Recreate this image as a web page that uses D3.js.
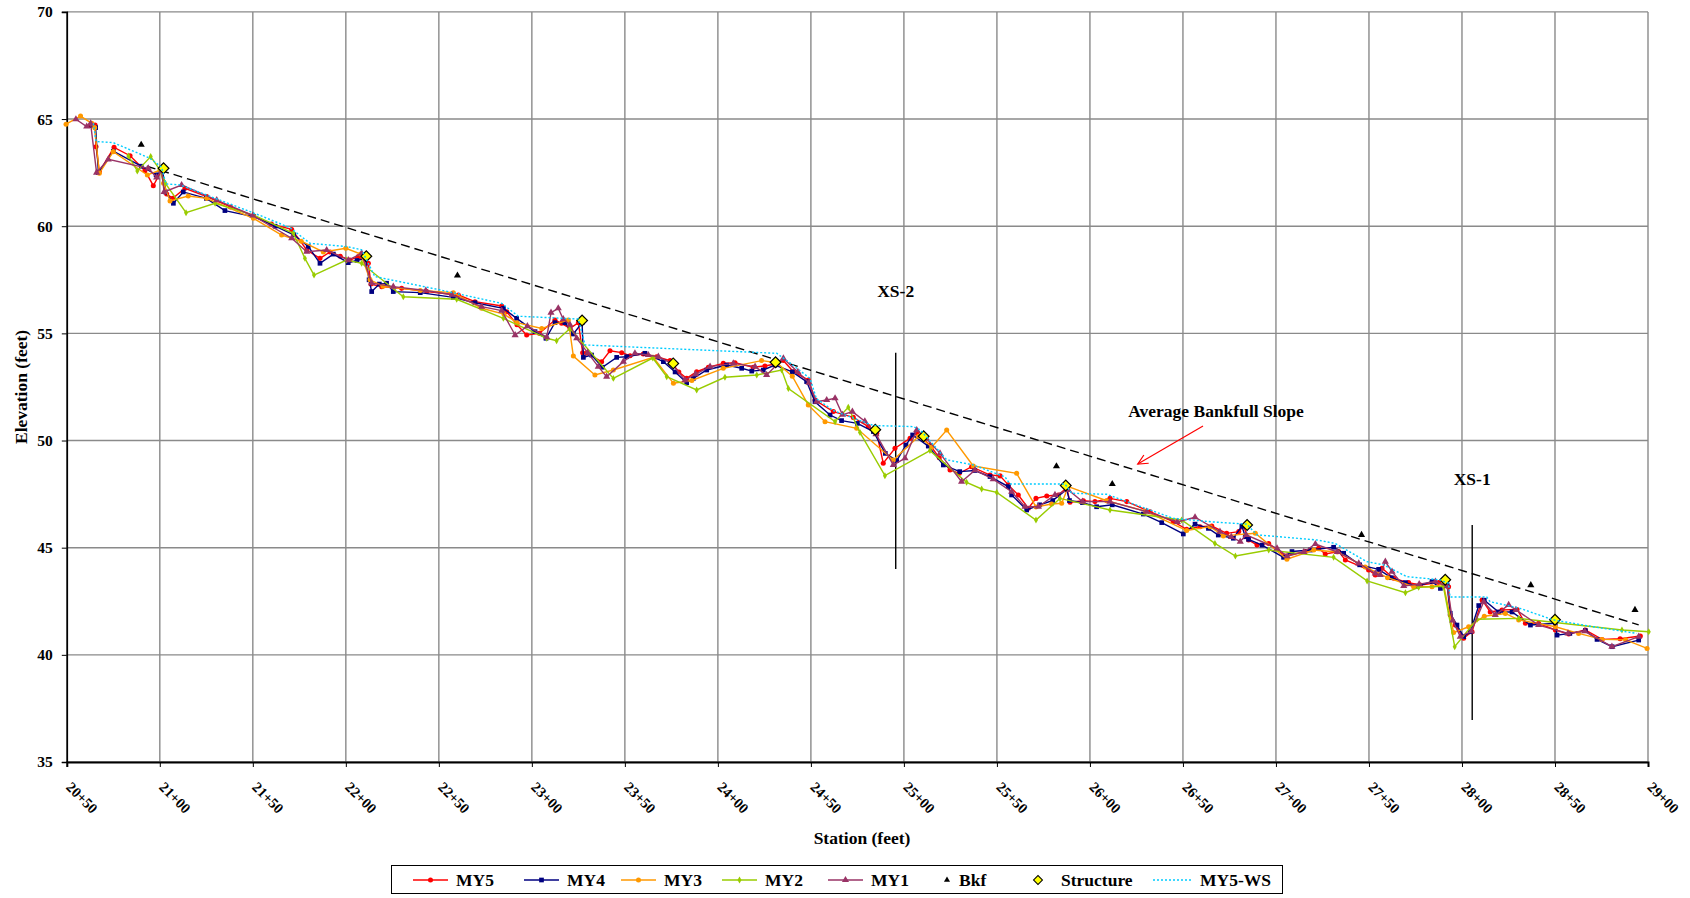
<!DOCTYPE html>
<html>
<head>
<meta charset="utf-8">
<script src="https://cdn.jsdelivr.net/npm/d3@7"></script>
<style>
  body { margin: 0; background: #fff; }
  text { font-family: "Liberation Serif", "Times New Roman", serif; font-weight: bold; fill: #000; }
</style>
</head>
<body>
<svg id="chart" width="1690" height="898"></svg>
<script>
// station (ft) / elevation (ft) pairs
const my5 = [[2062.5,64.7],[2065.2,64.72],[2065.7,63.71],[2067.5,62.55],[2075.4,63.68],[2084,63.29],[2092,62.6],[2096.5,61.89],[2101,62.62],
  [2103.7,61.5],[2107,61.3],[2113.5,61.77],[2125.2,61.38],[2138,60.9],[2150.3,60.48],[2160,60.1],[2170.9,59.85],[2179,58.89],[2186.1,58.5],
  [2191.5,58.8],[2197,58.6],[2202.2,58.42],[2206.7,58.58],[2212.1,58.27],[2213.5,57.3],[2219.3,57.18],[2230,57.1],[2243.5,56.95],[2260.5,56.79],
  [2269.4,56.48],[2283.8,56.28],[2286.5,56.01],[2292,55.4],[2297.2,54.92],[2304,55.0],[2312.4,55.62],[2316,55.47],[2320.5,55.23],[2325,55.5],
  [2327.3,54.1],[2329.5,54.07],[2337.5,53.68],[2342,54.19],[2348.3,54.1],[2352.8,53.96],[2359.9,54.04],[2367.1,53.91],[2374.3,53.73],[2379,53.2],
  [2383.2,52.9],[2388.6,53.21],[2394.9,53.42],[2402.9,53.6],[2409.2,53.63],[2419,53.42],[2425.3,53.48],[2430.7,53.57],[2435,53.75],[2440.6,53.21],
  [2448.6,52.82],[2452.2,51.89],[2462.1,51.35],[2472.8,51.08],[2480.9,50.65],[2485.4,50.34],[2488.9,48.94],[2495.2,49.64],[2503.3,50.1],
  [2506.9,50.34],[2514,49.79],[2519,49.2],[2524.8,48.63],[2529.8,48.47],[2536.4,48.78],[2546.3,48.39],[2551.7,48.35],[2556.1,47.93],
  [2561.5,47.46],[2566.9,46.84],[2571,47.3],[2576.8,47.41],[2583,47.46],[2587.5,47.8],[2589.3,47.12],[2596.5,47.19],[2602.7,47.15],
  [2610.8,47.3],[2619.8,47.15],[2632.3,46.68],[2644.8,46.22],[2652,45.86],[2659.2,45.98],[2665.5,46.01],[2673.5,45.67],[2680,45.75],
  [2682.6,46.01],[2685.3,45.36],[2689.8,45.12],[2696.1,45.2],[2705,44.61],[2715.8,44.82],[2722.9,44.97],[2726.5,44.71],[2733.7,44.82],
  [2737.3,44.43],[2749.8,43.96],[2753.4,43.73],[2757,44.04],[2763.3,43.57],[2771.3,43.37],[2777.6,43.26],[2787.5,43.37],[2792.8,43.18],
  [2793.7,41.86],[2796.4,41.39],[2800.9,40.77],[2805.4,41.08],[2810.8,42.56],[2815.2,42.0],[2821.5,42.09],[2829.6,42.12],[2834.1,41.47],
  [2841.2,41.47],[2850.2,41.16],[2857.4,40.97],[2866.3,41.16],[2875.3,40.72],[2885,40.75],[2895.9,40.88]];

const my4 = [[2063.5,64.7],[2065.5,64.6],[2067,62.5],[2075,63.5],[2090,62.8],[2098,62.4],[2101.5,62.6],[2103,61.6],[2107.3,61.07],[2112.6,61.6],
  [2125,61.3],[2135,60.73],[2150.3,60.45],[2162,60.0],[2172,59.6],[2179.8,59.05],[2186.1,58.27],[2193.3,58.7],[2201.3,58.3],[2206,58.4],
  [2210.5,58.5],[2212.5,57.5],[2213.9,56.95],[2218,57.3],[2221.9,57.34],[2225.5,56.95],[2240,56.9],[2257.8,56.68],[2269.4,56.43],[2284.7,56.17],
  [2291.8,55.7],[2301.7,55.08],[2307.6,54.77],[2312.4,55.5],[2317.8,55.5],[2322.3,54.97],[2327,55.5],[2327.7,53.88],[2332.1,53.99],[2337.9,53.42],
  [2345.6,53.88],[2351,53.91],[2360.8,54.07],[2370.7,53.68],[2377,53.2],[2383.2,52.7],[2386.8,52.9],[2394,53.29],[2404.7,53.52],[2412.8,53.37],
  [2418.2,53.24],[2424.4,53.29],[2430.7,53.52],[2440,53.2],[2447.7,52.75],[2452.2,51.81],[2460.3,51.19],[2466.5,50.93],[2475,50.8],
  [2483.6,50.42],[2490,49.4],[2496.1,49.06],[2501.1,49.79],[2504.7,50.26],[2513.1,49.74],[2521.2,48.86],[2530,48.55],[2538,48.6],[2546.3,48.32],
  [2556.1,47.85],[2557.9,47.46],[2566,46.76],[2573,47.0],[2580,47.2],[2587.5,47.72],[2589,47.2],[2596,47.1],[2603.6,46.91],[2612,47.0],
  [2628.7,46.57],[2638.6,46.17],[2650.2,45.64],[2656.5,46.1],[2663.7,45.9],[2669,45.59],[2677.1,45.44],[2681.7,46.01],[2683.5,45.51],
  [2685.3,45.39],[2692.5,45.12],[2704.1,44.55],[2708.6,44.82],[2718.5,44.89],[2731,45.02],[2736.4,44.74],[2745,44.2],[2755.2,43.99],
  [2762,43.6],[2769.6,43.37],[2776,43.2],[2783.9,43.42],[2788.4,43.1],[2792,43.26],[2793.7,41.94],[2797.3,41.39],[2800.9,40.85],
  [2804.5,41.08],[2809,42.3],[2812,42.55],[2819.7,42.0],[2826.9,42.0],[2836.8,41.39],[2850.2,41.47],[2851.1,40.92],[2858,41.0],
  [2866.3,41.13],[2872.6,40.72],[2880.7,40.38],[2895,40.69]];

const my3 = [[2049.6,64.76],[2057.4,65.14],[2063.4,64.8],[2065,64.6],[2067.5,62.47],[2075,63.48],[2093.3,62.39],[2100.1,62.62],[2102,62.0],
  [2105.5,61.18],[2115.3,61.41],[2125.2,61.3],[2150.3,60.37],[2165.5,59.59],[2176,59.3],[2187.9,58.8],[2200,58.97],[2208,58.7],[2213,57.5],
  [2220,57.2],[2240,57.0],[2257.8,56.9],[2273,56.17],[2285,55.9],[2292,55.5],[2305.3,55.23],[2319.6,55.62],[2322.3,53.94],[2333.9,53.06],
  [2343.8,53.29],[2365.3,53.88],[2376.1,52.67],[2386,52.8],[2402.9,53.37],[2423.5,53.73],[2431.6,53.63],[2440,53.0],[2448.6,51.66],
  [2457.6,50.88],[2474.6,50.57],[2494.3,49.09],[2508,50.2],[2515,49.7],[2523,50.49],[2537.3,48.81],[2560.6,48.47],[2571,46.9],[2579.4,47.04],
  [2584.8,47.07],[2588.4,47.85],[2609,47.19],[2630,46.7],[2652,45.8],[2664.6,45.98],[2671.7,45.55],[2688.9,45.67],[2705.9,44.46],
  [2720.3,44.89],[2733,44.8],[2748,44.1],[2760,43.6],[2774,43.18],[2783.9,43.18],[2790,43.3],[2795.5,41.04],[2803.6,41.31],[2812,41.8],
  [2823.3,41.93],[2830.5,41.63],[2850.2,41.31],[2862.7,41.0],[2875.3,40.72],[2888,40.7],[2899.5,40.3]];

const my2 = [[2083.1,63.28],[2087.9,62.58],[2095.1,63.25],[2100.1,62.62],[2103,62.0],[2114.1,60.63],[2129.7,61.07],[2150.3,60.52],
  [2171.8,59.67],[2178,58.5],[2182.9,57.72],[2200.4,58.42],[2208.5,58.27],[2230.9,56.71],[2259.6,56.59],[2284.7,55.7],[2308,54.77],
  [2313.3,54.66],[2320.5,55.23],[2343.8,52.9],[2365,53.85],[2372.5,52.98],[2388.6,52.36],[2403.8,52.95],[2420.9,53.06],[2434.3,53.29],
  [2437.9,52.43],[2463,50.88],[2470.1,51.55],[2476.4,50.37],[2489.8,48.36],[2514,49.53],[2533.7,48.05],[2541.8,47.74],[2549.9,47.58],
  [2571,46.29],[2583.9,47.3],[2610.8,46.76],[2649.3,46.29],[2667.2,45.2],[2678.2,44.61],[2696.1,44.89],[2731,44.55],[2749,43.45],
  [2769.6,42.9],[2776.7,43.15],[2790,43.2],[2796.1,40.38],[2808.1,41.66],[2830.5,41.7],[2886,41.16],[2900.4,41.08]];

const my1 = [[2054.9,64.99],[2060.7,64.65],[2062.8,64.8],[2066,62.5],[2072.3,63.12],[2093.8,62.7],[2098.3,62.28],[2101,62.6],[2102.3,61.6],
  [2111.7,61.92],[2130.6,61.22],[2150,60.5],[2170.9,59.44],[2179,58.81],[2189.7,58.89],[2201.3,58.42],[2208.5,58.73],[2213.9,57.34],
  [2225.5,57.18],[2243,57.0],[2257,56.8],[2273,56.25],[2283.8,56.06],[2291,54.92],[2297.6,55.34],[2308,54.82],[2310.3,55.97],[2314.2,56.17],
  [2316.9,55.66],[2320.5,55.4],[2324.1,54.77],[2330,54.1],[2335.7,53.45],[2340.2,52.98],[2349.2,53.68],[2355.4,54.07],[2362.6,53.99],
  [2368,53.91],[2375,53.6],[2382.3,52.82],[2388,53.1],[2395.8,53.45],[2408.3,53.6],[2420,53.45],[2426.2,53.06],[2435.2,53.83],[2443,53.2],
  [2449,52.7],[2453.1,51.81],[2458.5,51.89],[2463,51.97],[2467,51.2],[2472.3,51.35],[2479,50.9],[2485,50.3],[2494.3,48.86],[2500.6,49.17],
  [2506.9,50.49],[2512,50.1],[2519.4,49.4],[2531,48.08],[2538.2,48.62],[2548,48.2],[2557.9,47.61],[2565.1,46.91],[2572.3,46.91],
  [2581.2,47.46],[2588.4,47.69],[2596,47.15],[2610.8,47.15],[2630.5,46.68],[2647,46.2],[2656.5,46.42],[2669.9,45.75],[2676,45.5],
  [2680.8,45.28],[2684,45.6],[2700.6,44.97],[2706,44.6],[2715,44.8],[2721.2,45.17],[2733,44.8],[2744.5,44.27],[2753.4,43.8],[2756.1,43.73],
  [2758.8,44.35],[2762.4,43.88],[2768.7,43.21],[2777,43.3],[2785.7,43.42],[2792,43.2],[2795,41.6],[2799.1,40.85],[2805,41.1],[2811.7,42.48],
  [2817.9,41.86],[2825.1,42.33],[2829,42.1],[2841.2,41.39],[2857,41.0],[2866,41.1],[2880.6,40.38],[2895,40.85]];

const bkf = [[2090,63.8],[2260,57.7],[2582,48.8],[2612,47.97],[2746,45.6],[2837,43.25],[2893,42.1]];

const structures = [[2102,62.7],[2211,58.6],[2327,55.6],[2376,53.6],[2431,53.65],[2484.6,50.5],[2510.6,50.2],[2587,47.9],
  [2684.5,46.06],[2791,43.5],[2850,41.64]];

const my5ws = [[2064.3,64.8],[2065.7,63.95],[2075,63.9],[2094.7,63.17],[2101,62.75],[2103.3,61.97],[2110.9,61.93],[2153.9,60.5],
  [2170,59.93],[2180.8,59.2],[2200.5,59.05],[2208.5,58.9],[2215.6,57.65],[2250.6,57.03],[2283.8,56.4],[2292.7,55.8],[2325,55.67],
  [2328.6,54.46],[2431.6,54.07],[2437.9,53.68],[2449.5,52.9],[2453,51.95],[2462,51.4],[2483.6,50.7],[2505,50.65],[2508.7,50.5],[2523,49.1],
  [2537.3,48.86],[2554.4,48.3],[2557,47.97],[2586.6,47.97],[2590.2,47.54],[2609,47.49],[2632.3,46.76],[2644.8,46.37],[2666.3,46.2],
  [2684.3,46.1],[2689.7,45.6],[2722,45.36],[2731.8,45.2],[2748.8,44.35],[2757.8,44.2],[2770.3,43.65],[2788.2,43.5],[2792.7,43.34],
  [2793.6,42.7],[2813.3,42.7],[2815.1,42.48],[2831.2,42.17],[2849.1,41.63],[2870.6,41.31],[2893.9,41.0]];

const slopeLine = [[2093,62.8],[2895,41.4]];
const crossSections = [
  {label: "XS-2", sta: 2495.6, top: 54.1, bottom: 44.0, labelElev: 56.7},
  {label: "XS-1", sta: 2805.5, top: 46.06, bottom: 36.96, labelElev: 47.93}
];
const slopeNote = {text: "Average Bankfull Slope", sta: 2667.8, elev: 51.1, from: [2660.8, 50.68], to: [2625.7, 48.9]};

const stationTicks = d3.range(2050, 2901, 50);
const elevTicks = [35, 40, 45, 50, 55, 60, 65, 70];

const margin = {top: 11.9, right: 42, bottom: 136, left: 66.8};
const width = 1690, height = 898;

const svg = d3.select("#chart");

const x = d3.scaleLinear().domain([2050, 2900]).range([margin.left, width - margin.right]);
const y = d3.scaleLinear().domain([35, 70]).range([height - margin.bottom, margin.top]);

// grid
svg.append("g")
  .selectAll("line")
  .data(stationTicks)
  .join("line")
    .attr("x1", d => x(d)).attr("x2", d => x(d))
    .attr("y1", y(35)).attr("y2", y(70))
    .attr("stroke", "#8a8a8a").attr("stroke-width", 1.4);
svg.append("g")
  .selectAll("line")
  .data(elevTicks)
  .join("line")
    .attr("x1", x(2050)).attr("x2", x(2900))
    .attr("y1", d => y(d)).attr("y2", d => y(d))
    .attr("stroke", "#8a8a8a").attr("stroke-width", 1.4);

const fmtStation = d => `${Math.floor(d / 100)}+${String(d % 100).padStart(2, "0")}`;

// axes
const yAxis = svg.append("g")
  .attr("transform", `translate(${margin.left},0)`)
  .call(d3.axisLeft(y).tickValues(elevTicks).tickSize(5).tickPadding(9).tickFormat(d3.format("d")));
yAxis.select(".domain").attr("stroke", "#000").attr("stroke-width", 1.6);
yAxis.selectAll("text").attr("font-size", 15.5).attr("font-family", null);

const xAxis = svg.append("g")
  .attr("transform", `translate(0,${y(35)})`)
  .call(d3.axisBottom(x).tickValues(stationTicks).tickSize(5).tickFormat(fmtStation));
xAxis.select(".domain").attr("stroke", "#000").attr("stroke-width", 2);
xAxis.selectAll("text")
  .attr("font-size", 14.5).attr("font-family", null)
  .attr("text-anchor", "start")
  .attr("dy", null).attr("y", 0)
  .attr("transform", "translate(-2,26) rotate(45)");

svg.append("text")
  .attr("transform", `translate(26.5,${(y(35) + y(70)) / 2}) rotate(-90)`)
  .attr("text-anchor", "middle")
  .attr("font-size", 17.5)
  .text("Elevation (feet)");

svg.append("text")
  .attr("x", 862)
  .attr("y", 844)
  .attr("text-anchor", "middle")
  .attr("font-size", 17.5)
  .text("Station (feet)");

// bankfull slope line
const line = d3.line().x(d => x(d[0])).y(d => y(d[1]));
svg.append("path")
  .datum(slopeLine)
  .attr("d", line)
  .attr("fill", "none").attr("stroke", "#000").attr("stroke-width", 1.4)
  .attr("stroke-dasharray", "9,5");

// cross sections
const xsG = svg.append("g").selectAll("g").data(crossSections).join("g");
xsG.append("line")
  .attr("x1", d => x(d.sta)).attr("x2", d => x(d.sta))
  .attr("y1", d => y(d.top)).attr("y2", d => y(d.bottom))
  .attr("stroke", "#000").attr("stroke-width", 1.4);
xsG.append("text")
  .attr("x", d => x(d.sta)).attr("y", d => y(d.labelElev))
  .attr("text-anchor", "middle").attr("font-size", 17.5)
  .text(d => d.label);

// survey series
const series = [
  {name: "MY5", data: my5, color: "#ff0000", symbol: d3.symbolCircle, size: 20},
  {name: "MY4", data: my4, color: "#000080", symbol: d3.symbolSquare, size: 22},
  {name: "MY3", data: my3, color: "#ff9900", symbol: d3.symbolCircle, size: 20},
  {name: "MY2", data: my2, color: "#99cc00", symbol: d3.symbolDiamond, size: 14},
  {name: "MY1", data: my1, color: "#993366", symbol: d3.symbolTriangle, size: 22}
];

series.forEach(s => {
  const g = svg.append("g");
  g.append("path")
    .datum(s.data)
    .attr("d", line)
    .attr("fill", "none").attr("stroke", s.color).attr("stroke-width", 1.4);
  g.selectAll("path.pt")
    .data(s.data)
    .join("path")
      .attr("class", "pt")
      .attr("transform", d => `translate(${x(d[0])},${y(d[1])})`)
      .attr("d", d3.symbol(s.symbol, s.size))
      .attr("fill", s.color);
});

// bankfull points
svg.append("g")
  .selectAll("path")
  .data(bkf)
  .join("path")
    .attr("transform", d => `translate(${x(d[0])},${y(d[1])})`)
    .attr("d", d3.symbol(d3.symbolTriangle, 22))
    .attr("fill", "#000");

// structures
const diamond = d3.symbol(d3.symbolSquare, 58);
svg.append("g")
  .selectAll("path")
  .data(structures)
  .join("path")
    .attr("transform", d => `translate(${x(d[0])},${y(d[1])}) rotate(45)`)
    .attr("d", diamond)
    .attr("fill", "#ffff00").attr("stroke", "#000").attr("stroke-width", 1.2);

// water surface
svg.append("path")
  .datum(my5ws)
  .attr("d", line)
  .attr("fill", "none").attr("stroke", "#00ccff").attr("stroke-width", 1.4)
  .attr("stroke-dasharray", "2,2");

// annotation
svg.append("text")
  .attr("x", x(slopeNote.sta)).attr("y", y(slopeNote.elev))
  .attr("text-anchor", "middle").attr("font-size", 17.5)
  .text(slopeNote.text);
const ax1 = x(slopeNote.from[0]), ay1 = y(slopeNote.from[1]);
const ax2 = x(slopeNote.to[0]), ay2 = y(slopeNote.to[1]);
const ang = Math.atan2(ay2 - ay1, ax2 - ax1);
svg.append("line")
  .attr("x1", ax1).attr("y1", ay1).attr("x2", ax2).attr("y2", ay2)
  .attr("stroke", "#ff0000").attr("stroke-width", 1.2);
svg.append("path")
  .attr("d", d3.line()([
    [ax2 - 11 * Math.cos(ang - 0.45), ay2 - 11 * Math.sin(ang - 0.45)],
    [ax2, ay2],
    [ax2 - 11 * Math.cos(ang + 0.45), ay2 - 11 * Math.sin(ang + 0.45)]
  ]))
  .attr("fill", "none").attr("stroke", "#ff0000").attr("stroke-width", 1.2);

// legend
const legendItems = [
  {name: "MY5", kind: "line", color: "#ff0000", symbol: d3.symbolCircle, size: 20, x0: 413},
  {name: "MY4", kind: "line", color: "#000080", symbol: d3.symbolSquare, size: 22, x0: 524},
  {name: "MY3", kind: "line", color: "#ff9900", symbol: d3.symbolCircle, size: 20, x0: 621},
  {name: "MY2", kind: "line", color: "#99cc00", symbol: d3.symbolDiamond, size: 14, x0: 722},
  {name: "MY1", kind: "line", color: "#993366", symbol: d3.symbolTriangle, size: 22, x0: 828},
  {name: "Bkf", kind: "bkf", x0: 930},
  {name: "Structure", kind: "struct", x0: 1021},
  {name: "MY5-WS", kind: "ws", x0: 1153}
];
const legend = svg.append("g");
legend.append("rect")
  .attr("x", 391.5).attr("y", 865.5).attr("width", 891).attr("height", 28)
  .attr("fill", "#fff").attr("stroke", "#000").attr("stroke-width", 1);
const ly = 880;
legendItems.forEach(it => {
  const g = legend.append("g");
  let tx;
  if (it.kind === "line") {
    g.append("line").attr("x1", it.x0).attr("x2", it.x0 + 35).attr("y1", ly).attr("y2", ly)
      .attr("stroke", it.color).attr("stroke-width", 1.4);
    g.append("path").attr("transform", `translate(${it.x0 + 17.5},${ly})`)
      .attr("d", d3.symbol(it.symbol, it.size)).attr("fill", it.color);
    tx = it.x0 + 43;
  } else if (it.kind === "bkf") {
    g.append("path").attr("transform", `translate(${it.x0 + 17},${ly})`)
      .attr("d", d3.symbol(d3.symbolTriangle, 16)).attr("fill", "#000");
    tx = it.x0 + 29;
  } else if (it.kind === "struct") {
    g.append("path").attr("transform", `translate(${it.x0 + 17},${ly}) rotate(45)`)
      .attr("d", d3.symbol(d3.symbolSquare, 40)).attr("fill", "#ffff00")
      .attr("stroke", "#000").attr("stroke-width", 1);
    tx = it.x0 + 40;
  } else {
    g.append("line").attr("x1", it.x0).attr("x2", it.x0 + 40).attr("y1", ly).attr("y2", ly)
      .attr("stroke", "#00ccff").attr("stroke-width", 1.4).attr("stroke-dasharray", "2,2");
    tx = it.x0 + 47;
  }
  g.append("text").attr("x", tx).attr("y", ly + 6).attr("font-size", 17.5).text(it.name);
});
</script>
</body>
</html>
